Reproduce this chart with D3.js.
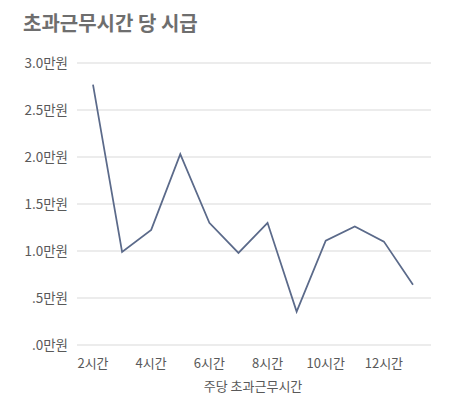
<!DOCTYPE html>
<html>
<head>
<meta charset="utf-8">
<script src="https://cdn.jsdelivr.net/npm/d3@7"></script>
<style>
  body { margin: 0; background: #fff; }
  text { font-family: "Noto Sans CJK KR", "Noto Sans", sans-serif; }
</style>
</head>
<body>
<div id="chart"></div>
<script>
// 초과근무시간 당 시급 (line chart)
var hours = [2, 3, 4, 5, 6, 7, 8, 9, 10, 11, 12, 13];
var wage = [2.77, 0.99, 1.225, 2.03, 1.30, 0.98, 1.30, 0.355, 1.11, 1.26, 1.10, 0.64];
var yTicks = [0, 0.5, 1.0, 1.5, 2.0, 2.5, 3.0];
var yTickLabels = [".0만원", ".5만원", "1.0만원", "1.5만원", "2.0만원", "2.5만원", "3.0만원"];
var xTickHours = [2, 4, 6, 8, 10, 12];

var width = 453, height = 414;

var svg = d3.select("#chart")
    .append("svg")
    .attr("width", width)
    .attr("height", height);

// Title
svg.append("text")
    .attr("x", 23)
    .attr("y", 31)
    .text("초과근무시간 당 시급")
    .attr("font-size", "20px")
    .attr("font-weight", "bold")
    .attr("fill", "#6e6e6e");

var y = d3.scaleLinear()
    .domain([0, 3])
    .range([345, 63]);

var x = d3.scalePoint()
    .domain(hours)
    .range([93, 413]);

// gridlines
svg.append("g")
    .selectAll("line")
    .data(yTicks)
    .enter()
    .append("line")
    .attr("x1", 77)
    .attr("x2", 431)
    .attr("y1", d => y(d))
    .attr("y2", d => y(d))
    .attr("stroke", "#d9d9d9")
    .attr("stroke-width", 1);

// y labels
svg.append("g")
    .selectAll("text")
    .data(yTicks)
    .enter()
    .append("text")
    .attr("x", 68)
    .attr("y", d => y(d))
    .attr("dy", "0.36em")
    .style("text-anchor", "end")
    .attr("font-size", "13.5px")
    .attr("fill", "#595959")
    .text((d, i) => yTickLabels[i]);

// x labels
svg.append("g")
    .selectAll("text")
    .data(xTickHours)
    .enter()
    .append("text")
    .attr("x", d => x(d))
    .attr("y", 368)
    .style("text-anchor", "middle")
    .attr("font-size", "13px")
    .attr("fill", "#595959")
    .text(d => d + "시간");

// x title
svg.append("text")
    .attr("x", 253)
    .attr("y", 391)
    .style("text-anchor", "middle")
    .attr("font-size", "13px")
    .attr("fill", "#595959")
    .text("주당 초과근무시간");

// the line
var line = d3.line()
    .x((d, i) => x(hours[i]))
    .y(d => y(d));

svg.append("path")
    .datum(wage)
    .attr("d", line)
    .attr("fill", "none")
    .attr("stroke", "#5b6a8a")
    .attr("stroke-width", 1.75)
    .attr("stroke-linejoin", "miter");
</script>
</body>
</html>
